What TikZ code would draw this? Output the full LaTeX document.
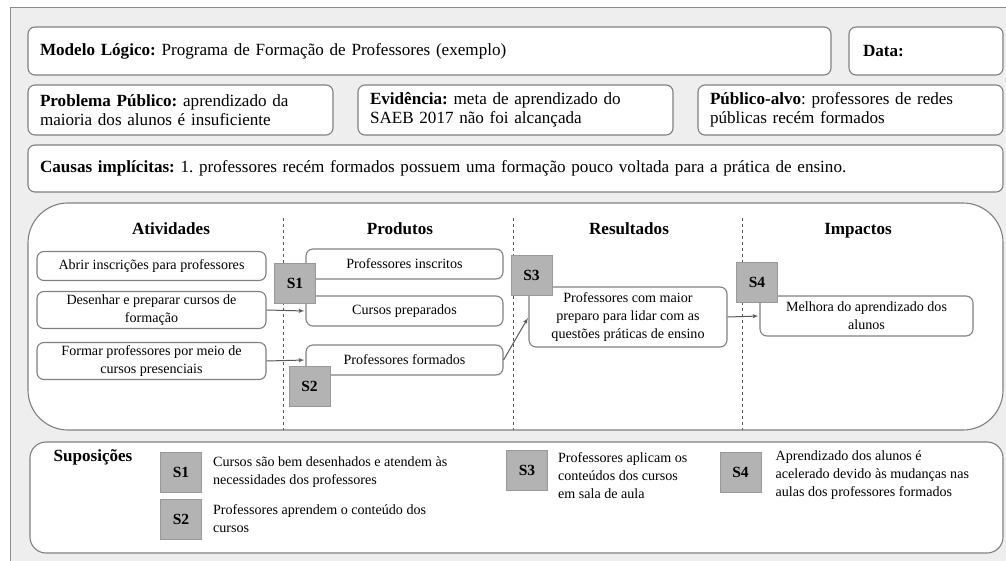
\documentclass[tikz,border=0pt]{standalone}
\usepackage{fontspec}
\setmainfont{Liberation Serif}
\usepackage{tikz}
\usetikzlibrary{positioning,calc,arrows}
\frenchspacing
\definecolor{paper}{HTML}{EEEEEE}
\definecolor{edge}{HTML}{808080}
\definecolor{sqgray}{HTML}{B3B3B3}
\newcommand{\bigtxt}{\fontsize{17.1}{19}\selectfont}
\newcommand{\smalltxt}{\fontsize{14.1}{18}\selectfont}
\tikzstyle{field} = [draw=edge, fill=white, rounded corners=7pt, line width=1.1pt, align=left, inner xsep=12pt, font=\bigtxt]
\tikzstyle{block} = [draw=edge, fill=white, rounded corners=7pt, line width=1.1pt, align=center, inner sep=2pt, font=\smalltxt]
\tikzstyle{head} = [font=\bigtxt\bfseries, text height=12pt, text depth=4pt]
\tikzstyle{sq} = [draw=gray!80, fill=sqgray, line width=0.8pt, minimum width=41pt, minimum height=40pt, inner sep=0pt, font=\fontsize{15.5}{16}\selectfont\bfseries]
\tikzstyle{note} = [align=left, inner sep=0pt, anchor=west, font=\smalltxt]
\tikzstyle{to} = [->,>=latex',draw=gray!70!black,line width=1pt,shorten >=1pt]
\tikzstyle{sep} = [draw=gray!70!black,dashed,line width=0.8pt]

\begin{document}
\begin{tikzpicture}[x=1pt, y=-1pt, auto, node distance=229pt]
	\useasboundingbox (0,0) rectangle (1006,561);
	\fill [white] (0,0) rectangle (1006,561);
	\draw [fill=paper, draw=gray!90, line width=1pt] (10,8) rectangle (1030,590);
	%
	\node (model) [field, minimum width=803pt, minimum height=48pt, text width=779pt] at (429.5,51) {\textbf{Modelo Lógico:} Programa de Formação de Professores (exemplo)};
	\node (data) [field, minimum width=154pt, minimum height=48pt, text width=126pt] at (926,51) {\textbf{Data:}};
	%
	\node (prob) [field, minimum width=305pt, minimum height=50pt, text width=281pt] at (180.5,110) {\textbf{Problema Público:} aprendizado da\\maioria dos alunos é insuficiente};
	\node (evid) [field, minimum width=315pt, minimum height=50pt, text width=291pt] at (515.5,110) {\textbf{Evidência:} meta de aprendizado do\\SAEB 2017 não foi alcançada};
	\node (publ) [field, minimum width=305pt, minimum height=50pt, text width=281pt] at (850.5,110) {\textbf{Público-alvo}: professores de redes\\públicas recém formados};
	%
	\node (caus) [field, minimum width=975pt, minimum height=47pt, text width=951pt] at (515.5,168.5) {\textbf{Causas implícitas:} 1. professores recém formados possuem uma formação pouco voltada para a prática de ensino.};
	%
	\draw [draw=edge, fill=white, line width=1.1pt, rounded corners=40pt] (28,203) rectangle (1003,430);
	\draw [sep] (283,218) -- (283,430);
	\draw [sep] (513,218) -- (513,430);
	\draw [sep] (742,218) -- (742,430);
	%
	\node (hact) [head] at (171,231) {Atividades};
	\node (hprod) [head, right of=hact] {Produtos};
	\node (hres) [head, right of=hprod] {Resultados};
	\node (himp) [head, right of=hres] {Impactos};
	%
	\node (abr) [block, minimum width=229pt, minimum height=29pt] at (151.5,266) {Abrir inscrições para professores};
	\node (des) [block, minimum width=229pt, minimum height=37pt] at (151.5,310) {Desenhar e preparar cursos de\\formação};
	\node (for) [block, minimum width=229pt, minimum height=37pt] at (151.5,361) {Formar professores por meio de\\cursos presenciais};
	%
	\node (insc) [block, minimum width=197pt, minimum height=30pt] at (404.5,264) {Professores inscritos};
	\node (prep) [block, minimum width=197pt, minimum height=30pt] at (404.5,311) {Cursos preparados};
	\node (form) [block, minimum width=197pt, minimum height=30pt] at (404.5,360) {Professores formados};
	%
	\node (res) [block, minimum width=198pt, minimum height=60pt] at (628,317) {Professores com maior\\preparo para lidar com as\\questões práticas de ensino};
	\node (imp) [block, minimum width=213pt, minimum height=40pt] at (866.5,316) {Melhora do aprendizado dos\\alunos};
	%
	\draw [to] (des.east) -- (prep.west) {};
	\draw [to] (for.east) -- (form.west) {};
	\draw [to] (form.east) -- (res.west) {};
	\draw [to] (res.east) -- (imp.west) {};
	%
	\node (s1) [sq] at (295,283) {S1};
	\node (s2) [sq] at (309.5,386.5) {S2};
	\node (s3) [sq] at (531.5,275) {S3};
	\node (s4) [sq] at (757,282) {S4};
	%
	\draw [draw=edge, fill=white, line width=1.1pt, rounded corners=16pt] (30,442) rectangle (1003,553);
	\node (sup) [head, anchor=west] at (50,457) {Suposições};
	%
	\node (l1) [sq] at (181,472) {S1};
	\node (t1) [note, right=11pt of l1] {Cursos são bem desenhados e atendem às\\necessidades dos professores};
	\node (l2) [sq] at (181,519) {S2};
	\node (t2) [note, right=11pt of l2] {Professores aprendem o conteúdo dos\\cursos};
	\node (l3) [sq] at (527,470.5) {S3};
	\node (t3) [note, right=10pt of l3, yshift=-5pt] {Professores aplicam os\\conteúdos dos cursos\\em sala de aula};
	\node (l4) [sq] at (740.5,472) {S4};
	\node (t4) [note, right=14pt of l4, yshift=-3pt] {Aprendizado dos alunos é\\acelerado devido às mudanças nas\\aulas dos professores formados};
\end{tikzpicture}
\end{document}
